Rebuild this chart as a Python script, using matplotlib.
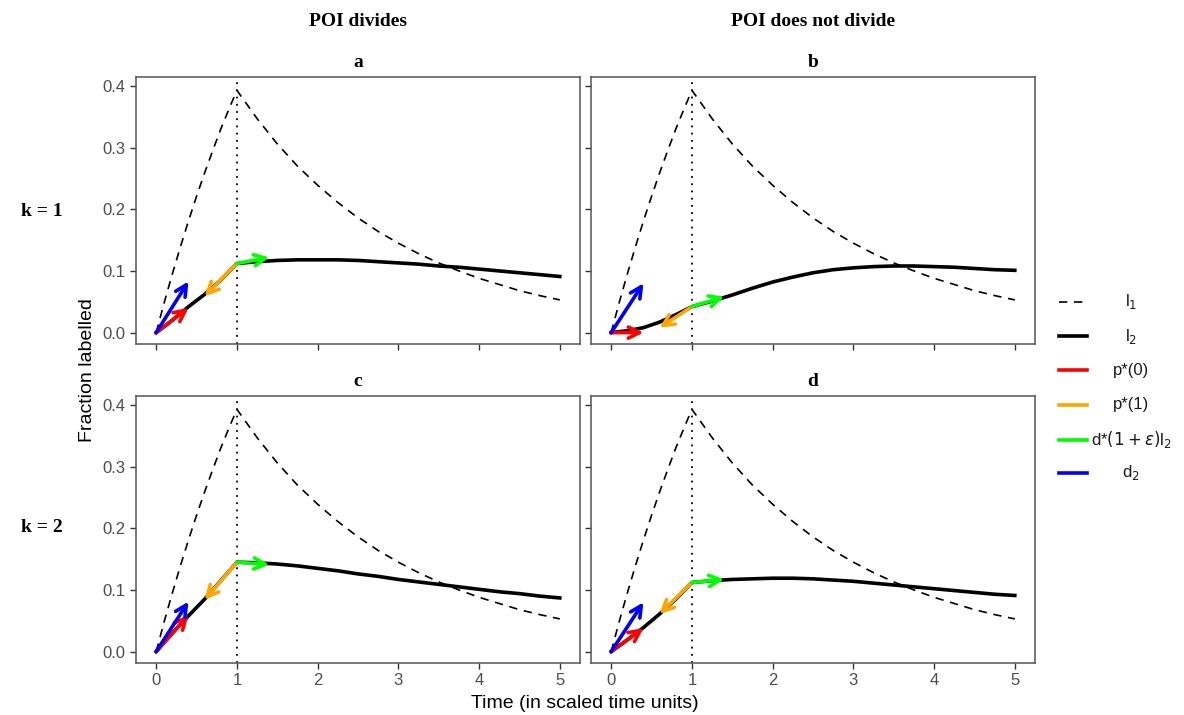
import matplotlib.pyplot as plt
from matplotlib.lines import Line2D

# l1 (same in every panel)
t_l1 = [0, 0.1, 0.2, 0.3, 0.4, 0.5, 0.6, 0.7, 0.8, 0.9, 1.0,
        1.25, 1.5, 1.75, 2.0, 2.25, 2.5, 2.75, 3.0, 3.25, 3.5, 3.75, 4.0, 4.25, 4.5, 4.75, 5.0]
l1 = [0, 0.049, 0.095, 0.139, 0.181, 0.221, 0.259, 0.295, 0.330, 0.362, 0.393,
      0.347, 0.306, 0.270, 0.239, 0.211, 0.186, 0.164, 0.145, 0.128, 0.113, 0.100, 0.088, 0.078, 0.068, 0.060, 0.053]

# l2 per panel (solid curve)
t_l2 = [0, 0.2, 0.4, 0.6, 0.8, 1.0, 1.25, 1.5, 1.75, 2.0, 2.25, 2.5, 2.75, 3.0,
        3.25, 3.5, 3.75, 4.0, 4.25, 4.5, 4.75, 5.0]
l2_a = [0, 0.020, 0.042, 0.062, 0.085, 0.112, 0.115, 0.117, 0.118, 0.118, 0.118, 0.117, 0.115, 0.113,
        0.111, 0.108, 0.106, 0.103, 0.100, 0.097, 0.094, 0.091]
l2_b = [0, 0.003, 0.008, 0.017, 0.029, 0.042, 0.051, 0.061, 0.072, 0.082, 0.090, 0.097, 0.102, 0.105,
        0.107, 0.108, 0.108, 0.107, 0.106, 0.104, 0.102, 0.101]
l2_c = [0, 0.030, 0.058, 0.085, 0.115, 0.145, 0.144, 0.142, 0.139, 0.135, 0.131, 0.126, 0.122, 0.117,
        0.113, 0.109, 0.105, 0.101, 0.097, 0.094, 0.090, 0.087]
l2_d = [0, 0.019, 0.039, 0.061, 0.085, 0.112, 0.115, 0.117, 0.118, 0.119, 0.119, 0.118, 0.116, 0.114,
        0.111, 0.108, 0.105, 0.102, 0.099, 0.096, 0.093, 0.091]

# arrow rises (over 0.4 time units) per panel a, b, c, d
red_dy = [0.040, 0.000, 0.059, 0.038]
blue_dy = [0.083, 0.080, 0.081, 0.080]
orange_dy = [-0.053, -0.034, -0.061, -0.051]
green_dy = [0.010, 0.016, -0.004, 0.005]
arrow_dt = 0.4

panel_letters = ["a", "b", "c", "d"]
col_titles = ["POI divides", "POI does not divide"]
row_titles = ["k = 1", "k = 2"]
legend_labels = [r"l$_1$", r"l$_2$", "p*(0)", "p*(1)", r"d*$(1+\varepsilon)$l$_2$", r"d$_2$"]
c_red, c_orange, c_green, c_blue = "#FF0000", "#FFA500", "#00FF00", "#0000FF"

plt.rcParams['font.family'] = ['Liberation Sans', 'DejaVu Sans']
fig = plt.figure(figsize=(11.84, 7.15), dpi=100)

W, H = 1184, 715
boxes = [(136, 580, 77, 344), (591, 1035, 77, 344), (136, 580, 396, 663), (591, 1035, 396, 663)]
curves = [l2_a, l2_b, l2_c, l2_d]

def arrow(ax, x0, y0, dx, dy, color):
    ax.annotate("", xy=(x0 + dx, y0 + dy), xytext=(x0, y0),
                arrowprops=dict(arrowstyle="->", color=color, lw=2.6, mutation_scale=20,
                                shrinkA=0, shrinkB=0), zorder=5)

for i, (l, r, t, b) in enumerate(boxes):
    ax = fig.add_axes([l / W, 1 - b / H, (r - l) / W, (b - t) / H])
    l2 = curves[i]
    ax.plot(t_l1, l1, color="black", ls=(0, (5, 4)), lw=1.2)
    ax.plot(t_l2, l2, color="black", lw=2.6, solid_joinstyle="round")
    ax.axvline(1, color="black", ls=(0, (1, 3)), lw=1.3)
    y1 = l2[t_l2.index(1.0)]
    arrow(ax, 0, 0, arrow_dt, red_dy[i], c_red)
    arrow(ax, 0, 0, arrow_dt, blue_dy[i], c_blue)
    arrow(ax, 1, y1, -arrow_dt, orange_dy[i], c_orange)
    arrow(ax, 1, y1, arrow_dt, green_dy[i], c_green)
    ax.set_xlim(-0.25, 5.25)
    ax.set_ylim(-0.0185, 0.4145)
    ax.set_xticks([0, 1, 2, 3, 4, 5])
    ax.set_yticks([0.0, 0.1, 0.2, 0.3, 0.4])
    ax.set_yticklabels(["0.0", "0.1", "0.2", "0.3", "0.4"])
    ax.tick_params(colors="#333333", labelcolor="#4D4D4D", labelsize=12, length=4, width=1)
    if i % 2 == 1:
        ax.tick_params(labelleft=False)
    if i < 2:
        ax.tick_params(labelbottom=False)
    for s in ax.spines.values():
        s.set_color("#555555")
        s.set_linewidth(1.1)
    ax.set_title(panel_letters[i], family="Liberation Serif", fontweight="bold", fontsize=14, pad=7)

fig.text(358 / W, 1 - 22 / H, col_titles[0], family="Liberation Serif", fontweight="bold",
         fontsize=14, ha="center", va="center")
fig.text(813 / W, 1 - 22 / H, col_titles[1], family="Liberation Serif", fontweight="bold",
         fontsize=14, ha="center", va="center")
fig.text(42 / W, 1 - 212 / H, row_titles[0], family="Liberation Serif", fontweight="bold",
         fontsize=14, ha="center", va="center")
fig.text(42 / W, 1 - 528 / H, row_titles[1], family="Liberation Serif", fontweight="bold",
         fontsize=14, ha="center", va="center")
fig.text(88 / W, 1 - 370 / H, "Fraction labelled", rotation=90, fontsize=14, ha="center", va="center")
fig.text(585 / W, 1 - 703 / H, "Time (in scaled time units)", fontsize=14, ha="center", va="center")

# legend drawn by hand so the labels sit centred like the original
leg_styles = [dict(color="black", lw=1.2, ls=(0, (5, 4))), dict(color="black", lw=2.6),
              dict(color=c_red, lw=2.6), dict(color=c_orange, lw=2.6),
              dict(color=c_green, lw=2.6), dict(color=c_blue, lw=2.6)]
leg_y = [302, 336, 370, 405, 440, 473]
for lab, st, y in zip(legend_labels, leg_styles, leg_y):
    fig.add_artist(Line2D([1059 / W, 1087 / W], [1 - y / H, 1 - y / H], **st))
    fig.text(1131 / W, 1 - y / H, lab, fontsize=12, ha="center", va="center", color="#1A1A1A")

fig.savefig("out.png", dpi=100)
